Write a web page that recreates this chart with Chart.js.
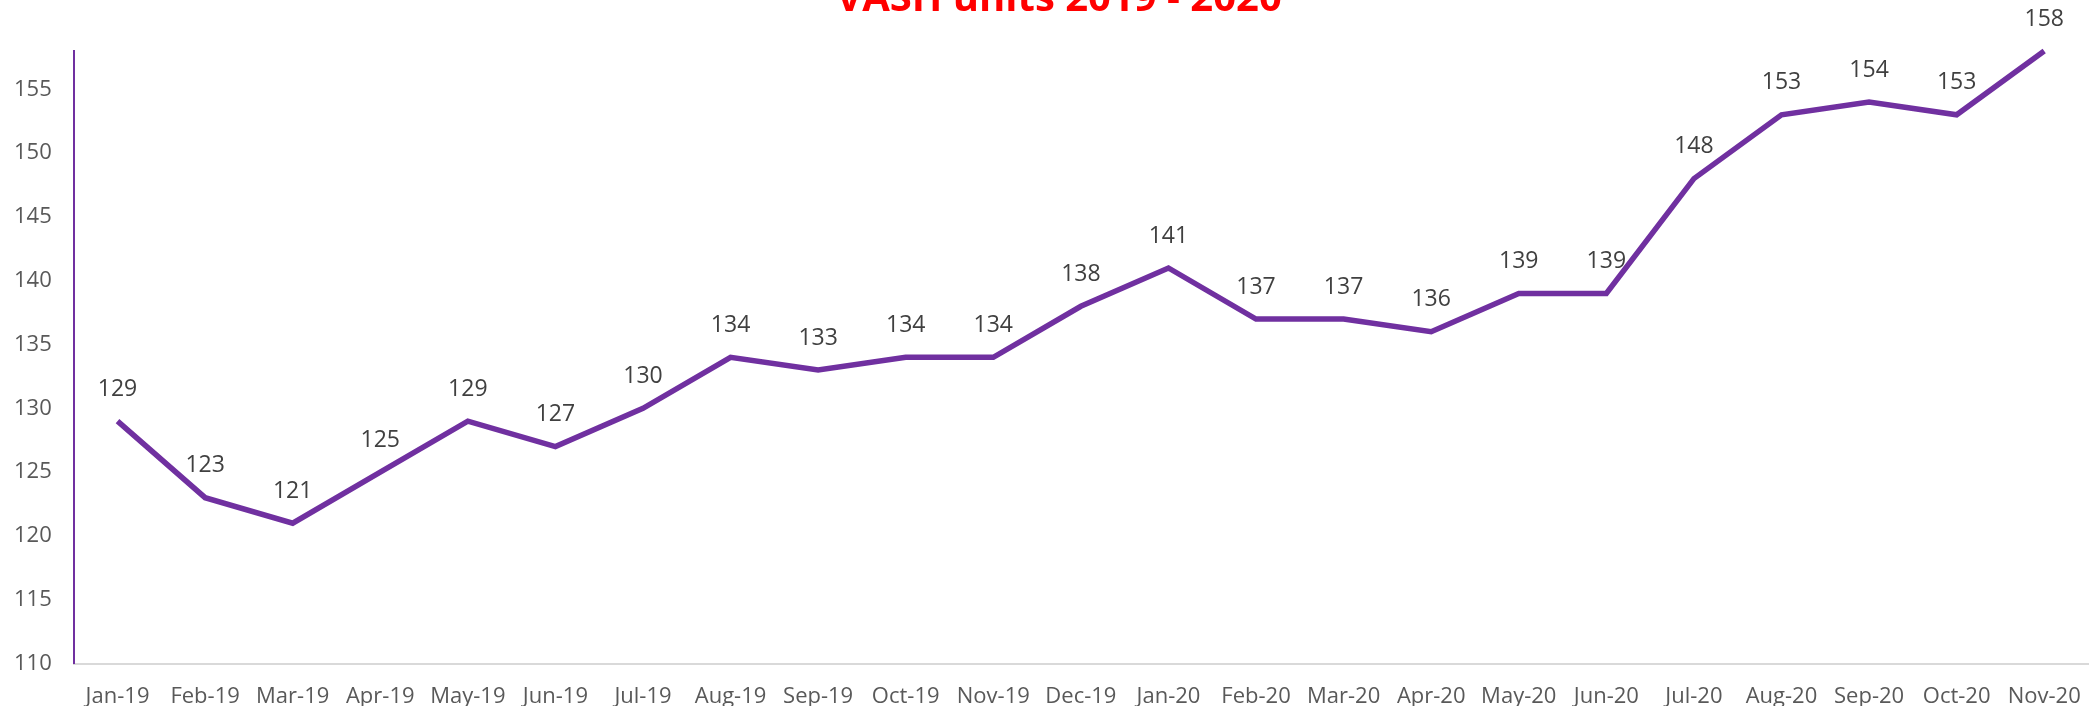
<!DOCTYPE html>
<html>
<head>
<meta charset="utf-8">
<script src="https://cdn.jsdelivr.net/npm/chart.js@4/dist/chart.umd.min.js"></script>
<style>
    body { margin: 0; background: #fff; }
    #wrap { width: 2093px; height: 706px; }
</style>
</head>
<body>
<div id="wrap"><canvas id="lineChart" width="2093" height="706"></canvas></div>
<script>
const months = ['Jan-19', 'Feb-19', 'Mar-19', 'Apr-19', 'May-19', 'Jun-19', 'Jul-19', 'Aug-19',
    'Sep-19', 'Oct-19', 'Nov-19', 'Dec-19', 'Jan-20', 'Feb-20', 'Mar-20', 'Apr-20', 'May-20',
    'Jun-20', 'Jul-20', 'Aug-20', 'Sep-20', 'Oct-20', 'Nov-20'];
const units = [129, 123, 121, 125, 129, 127, 130, 134, 133, 134, 134, 138,
    141, 137, 137, 136, 139, 139, 148, 153, 154, 153, 158];
const yTicks = [110, 115, 120, 125, 130, 135, 140, 145, 150, 155];
const titleText = 'VASH units 2019 - 2020';

const font = '"Open Sans", "DejaVu Sans", sans-serif';

// value labels above each point
const pointLabels = {
    id: 'pointLabels',
    afterDatasetsDraw(chart) {
        const ctx = chart.ctx;
        const meta = chart.getDatasetMeta(0);
        ctx.save();
        ctx.font = '23px ' + font;
        ctx.fillStyle = '#404040';
        ctx.textAlign = 'center';
        ctx.textBaseline = 'middle';
        meta.data.forEach((pt, i) => {
            ctx.fillText(units[i], pt.x, pt.y - 32);
        });
        ctx.restore();
    }
};

// title sits mostly above the canvas, like the original
const cutTitle = {
    id: 'cutTitle',
    afterDraw(chart) {
        const ctx = chart.ctx;
        ctx.save();
        ctx.font = 'bold 40px ' + font;
        ctx.fillStyle = '#ff0000';
        ctx.textAlign = 'center';
        ctx.textBaseline = 'alphabetic';
        ctx.fillText(titleText, 1059, 11);
        ctx.restore();
    }
};

const ctx = document.getElementById('lineChart').getContext('2d');
new Chart(ctx, {
    type: 'line',
    data: {
        labels: months,
        datasets: [{
            label: 'VASH units',
            data: units,
            borderColor: '#7030a0',
            borderWidth: 5.5,
            pointRadius: 0,
            tension: 0,
            fill: false,
            clip: false
        }]
    },
    options: {
        responsive: false,
        animation: false,
        layout: { padding: { top: 51, right: 5, left: 0, bottom: -16 } },
        plugins: {
            legend: { display: false },
            title: { display: false },
            tooltip: { enabled: false }
        },
        scales: {
            x: {
                offset: true,
                grid: { display: false },
                border: { display: true, color: '#d9d9d9', width: 2 },
                ticks: {
                    color: '#595959',
                    font: { family: font, size: 22 },
                    maxRotation: 0,
                    autoSkip: false,
                    padding: 12
                }
            },
            y: {
                min: 110,
                max: 158,
                grid: { display: false },
                border: { display: true, color: '#7030a0', width: 2 },
                afterBuildTicks(axis) {
                    axis.ticks = yTicks.map(v => ({ value: v }));
                },
                ticks: {
                    color: '#595959',
                    font: { family: font, size: 22 },
                    padding: 14
                }
            }
        }
    },
    plugins: [pointLabels, cutTitle]
});
</script>
</body>
</html>
